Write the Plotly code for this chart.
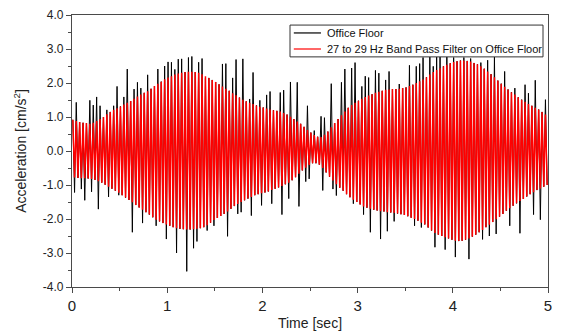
import plotly.graph_objects as go

# ---------------- data ----------------
carrier_hz = 28.0          # oscillation rate of the filtered signal (peaks per second)

# upper (positive) peak of each cycle of the 27-29 Hz band-pass signal
red_hi = [0.92, 0.88, 0.85, 0.83, 0.82, 0.80, 0.83, 0.88, 0.94, 1.00,
          1.08, 1.15, 1.21, 1.26, 1.31, 1.37, 1.42, 1.47, 1.54, 1.60,
          1.66, 1.71, 1.76, 1.83, 1.91, 1.98, 2.04, 2.11, 2.16, 2.20,
          2.25, 2.28, 2.30, 2.32, 2.33, 2.33, 2.32, 2.30, 2.26, 2.20,
          2.15, 2.09, 2.03, 1.96, 1.90, 1.83, 1.77, 1.70, 1.64, 1.57,
          1.51, 1.46, 1.42, 1.38, 1.34, 1.30, 1.28, 1.25, 1.22, 1.20,
          1.18, 1.16, 1.12, 1.07, 1.01, 0.94, 0.87, 0.80, 0.71, 0.62,
          0.54, 0.47, 0.42, 0.41, 0.48, 0.57, 0.70, 0.82, 0.94, 1.05,
          1.16, 1.27, 1.35, 1.42, 1.48, 1.54, 1.59, 1.63, 1.67, 1.71,
          1.74, 1.77, 1.80, 1.81, 1.82, 1.82, 1.83, 1.85, 1.87, 1.91,
          1.95, 2.00, 2.05, 2.10, 2.17, 2.25, 2.32, 2.38, 2.43, 2.49,
          2.54, 2.58, 2.62, 2.64, 2.66, 2.66, 2.65, 2.63, 2.59, 2.55,
          2.49, 2.42, 2.34, 2.26, 2.17, 2.07, 1.98, 1.89, 1.81, 1.73,
          1.66, 1.58, 1.51, 1.45, 1.38, 1.33, 1.27, 1.22, 1.15, 1.07]

# lower (negative) peak of each cycle of the band-pass signal
red_lo = [-0.78, -0.79, -0.80, -0.80, -0.81, -0.82, -0.85, -0.89, -0.93, -0.99,
          -1.05, -1.11, -1.17, -1.23, -1.30, -1.37, -1.44, -1.51, -1.59, -1.66,
          -1.73, -1.80, -1.87, -1.95, -2.02, -2.07, -2.12, -2.16, -2.20, -2.24,
          -2.27, -2.29, -2.30, -2.31, -2.31, -2.30, -2.29, -2.27, -2.24, -2.18,
          -2.11, -2.03, -1.97, -1.91, -1.85, -1.78, -1.70, -1.62, -1.56, -1.50,
          -1.45, -1.40, -1.35, -1.30, -1.27, -1.24, -1.22, -1.19, -1.15, -1.11,
          -1.07, -1.03, -0.98, -0.93, -0.86, -0.77, -0.67, -0.57, -0.49, -0.41,
          -0.36, -0.36, -0.40, -0.50, -0.63, -0.76, -0.87, -0.98, -1.08, -1.17,
          -1.27, -1.36, -1.43, -1.50, -1.57, -1.63, -1.67, -1.70, -1.73, -1.75,
          -1.77, -1.78, -1.80, -1.81, -1.82, -1.84, -1.86, -1.88, -1.92, -1.96,
          -2.00, -2.05, -2.11, -2.16, -2.25, -2.34, -2.41, -2.46, -2.50, -2.54,
          -2.57, -2.61, -2.64, -2.65, -2.64, -2.61, -2.57, -2.52, -2.46, -2.39,
          -2.32, -2.24, -2.17, -2.09, -2.01, -1.93, -1.85, -1.76, -1.68, -1.61,
          -1.54, -1.47, -1.41, -1.34, -1.27, -1.21, -1.15, -1.10, -1.05, -1.00]

# raw office-floor record: peaks that stand out beyond the filtered band
black_up_t = [0.04, 0.19, 0.22, 0.26, 0.29, 0.36, 0.43, 0.48, 0.55, 0.58,
              0.65, 0.69, 0.72, 0.80, 0.91, 0.98, 1.02, 1.05, 1.09, 1.13,
              1.16, 1.23, 1.27, 1.32, 1.35, 1.39, 1.41, 1.57, 1.61, 1.68,
              1.74, 1.79, 1.87, 1.90, 1.97, 2.05, 2.08, 2.19, 2.24, 2.31,
              2.37, 2.49, 2.56, 2.62, 2.66, 2.73, 2.83, 2.87, 2.95, 2.98,
              3.06, 3.09, 3.13, 3.17, 3.21, 3.24, 3.30, 3.34, 3.45, 3.56,
              3.60, 3.64, 3.67, 3.75, 3.80, 3.83, 3.87, 3.95, 4.00, 4.10,
              4.20, 4.30, 4.37, 4.44, 4.56, 4.66, 4.75, 4.80, 4.88, 4.98]
black_up_v = [1.43, 1.49, 1.35, 1.59, 1.33, 1.21, 1.33, 1.90, 1.59, 2.41,
              1.82, 2.02, 1.85, 2.24, 2.41, 2.50, 2.62, 2.61, 2.40, 2.70,
              2.71, 2.75, 2.78, 2.61, 2.72, 2.73, 2.14, 2.56, 2.57, 2.15,
              2.69, 2.71, 1.53, 2.31, 1.49, 1.65, 1.75, 1.72, 1.79, 2.03,
              2.02, 1.33, 0.60, 1.02, 0.98, 1.98, 2.02, 2.41, 2.44, 2.60,
              1.90, 2.20, 2.16, 2.37, 2.18, 2.29, 2.09, 2.34, 1.97, 2.52,
              2.49, 2.57, 2.75, 2.78, 2.49, 2.78, 2.78, 2.80, 2.75, 2.75,
              2.72, 2.60, 2.67, 2.80, 2.34, 1.85, 1.95, 1.70, 2.08, 1.51]

black_dn_t = [0.03, 0.10, 0.13, 0.21, 0.27, 0.38, 0.48, 0.64, 0.74, 0.89,
              1.00, 1.11, 1.22, 1.26, 1.33, 1.43, 1.50, 1.63, 1.73, 1.76,
              1.88, 1.99, 2.10, 2.21, 2.28, 2.40, 2.45, 2.50, 2.63, 2.74,
              2.78, 2.95, 3.07, 3.15, 3.23, 3.33, 3.40, 3.59, 3.67, 3.81,
              3.91, 4.02, 4.17, 4.30, 4.38, 4.46, 4.61, 4.72, 4.86, 4.93]
black_dn_v = [-1.22, -1.12, -1.45, -1.20, -1.71, -1.35, -1.30, -2.39, -2.12, -2.20,
              -2.59, -3.00, -3.54, -2.86, -2.66, -2.34, -2.20, -2.51, -1.85, -1.80,
              -1.90, -1.60, -1.55, -1.87, -1.40, -1.63, -0.90, -0.82, -1.16, -1.12,
              -1.31, -1.55, -1.87, -2.39, -2.59, -2.36, -2.07, -2.20, -2.25, -2.83,
              -2.90, -3.12, -3.18, -2.60, -2.50, -2.44, -2.20, -2.42, -1.87, -2.02]

series_names = ["Office Floor", "27 to 29 Hz Band Pass Filter on Office Floor"]
series_colors = ["#000000", "#FF0000"]

x_tick_vals = [0, 1, 2, 3, 4, 5]
x_tick_text = ["0", "1", "2", "3", "4", "5"]
y_tick_vals = [-4, -3, -2, -1, 0, 1, 2, 3, 4]
y_tick_text = ["-4.0", "-3.0", "-2.0", "-1.0", "0.0", "1.0", "2.0", "3.0", "4.0"]

# ---------------- build traces ----------------
n = len(red_hi)
t_hi = [(k + 0.25) / carrier_hz for k in range(n)]
t_lo = [(k + 0.75) / carrier_hz for k in range(n)]

black_hi = list(red_hi)
black_lo = list(red_lo)
for t, v in zip(black_up_t, black_up_v):
    k = min(n - 1, max(0, round(t * carrier_hz - 0.25)))
    black_hi[k] = v
for t, v in zip(black_dn_t, black_dn_v):
    k = min(n - 1, max(0, round(t * carrier_hz - 0.75)))
    black_lo[k] = v

rx, ry, bx, by = [], [], [], []
for k in range(n):
    rx += [t_hi[k], t_lo[k]]
    ry += [red_hi[k], red_lo[k]]
    bx += [t_hi[k], t_lo[k]]
    by += [black_hi[k], black_lo[k]]

FONT = "Liberation Sans, Arial, sans-serif"
TXT = "#222222"
AX = "#4a4a4a"

fig = go.Figure()
fig.add_trace(go.Scatter(x=bx, y=by, mode="lines", name=series_names[0],
                         line=dict(color=series_colors[0], width=1, simplify=False)))
fig.add_trace(go.Scatter(x=rx, y=ry, mode="lines", name=series_names[1],
                         line=dict(color=series_colors[1], width=1.5, simplify=False)))

axis_common = dict(showgrid=False, zeroline=False, showline=True, mirror=True,
                   linecolor=AX, linewidth=1.3, ticks="outside", automargin=False,
                   ticklen=5, tickwidth=1, tickcolor=AX)

fig.update_xaxes(range=[0, 5], tickvals=x_tick_vals, ticktext=x_tick_text,
                 tickfont=dict(family=FONT, size=15, color=TXT),
                 title=dict(text="Time [sec]", font=dict(family=FONT, size=14, color=TXT),
                            standoff=5),
                 minor=dict(ticks="outside", dtick=0.5, ticklen=3, tickcolor=AX),
                 **axis_common)
fig.update_yaxes(range=[-4, 4], tickvals=y_tick_vals, ticktext=y_tick_text,
                 tickfont=dict(family=FONT, size=12, color=TXT),
                 title=dict(text="Acceleration [cm/s<sup>2</sup>]",
                            font=dict(family=FONT, size=14, color=TXT), standoff=12),
                 minor=dict(ticks="outside", dtick=0.5, ticklen=3, tickcolor=AX),
                 **axis_common)

# legend drawn as a framed box inside the plot area (paper coordinates)
leg_x0, leg_x1, leg_y0, leg_y1 = 0.458, 0.9895, 0.846, 0.963
line_x0, line_x1, text_x = 0.466, 0.523, 0.531
row_y = [0.934, 0.875]
shapes = [dict(type="rect", xref="paper", yref="paper", x0=leg_x0, x1=leg_x1,
               y0=leg_y0, y1=leg_y1, line=dict(color="#333333", width=1),
               fillcolor="white", layer="above")]
annotations = []
for name, col, yy in zip(series_names, series_colors, row_y):
    shapes.append(dict(type="line", xref="paper", yref="paper", x0=line_x0, x1=line_x1,
                       y0=yy, y1=yy, line=dict(color=col, width=1.2), layer="above"))
    annotations.append(dict(xref="paper", yref="paper", x=text_x, y=yy, text=name,
                            showarrow=False, xanchor="left", yanchor="middle",
                            font=dict(family=FONT, size=11, color="#111111")))

fig.update_layout(
    width=566, height=334,
    margin=dict(l=72, r=18, t=15, b=47),
    paper_bgcolor="white", plot_bgcolor="white",
    showlegend=False, hovermode=False,
    shapes=shapes, annotations=annotations,
)

fig.write_html("out.html", config={"displayModeBar": False},
               post_script="document.body.style.margin='0px';document.body.style.overflow='hidden';")
